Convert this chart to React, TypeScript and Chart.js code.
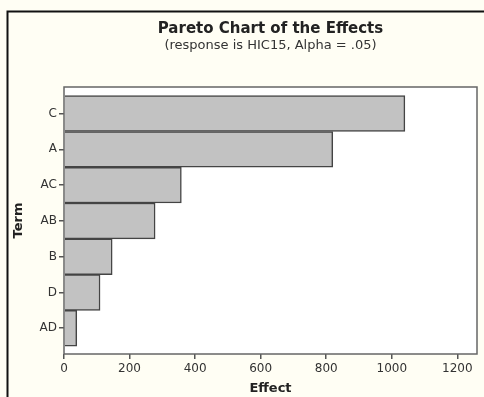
import React, { useEffect, useRef } from "react";
import { Chart, registerables } from "chart.js";

Chart.register(...registerables);

const terms = ["C", "A", "AC", "AB", "B", "D", "AD"];
const effects = [1040, 820, 358, 278, 147, 110, 39];
const xTickValues = [0, 200, 400, 600, 800, 1000, 1200];

const FONT = "'DejaVu Sans', Verdana, sans-serif";

const framePlugin = {
  id: "frame",
  beforeDraw(chart: any) {
    const { ctx, width, height, chartArea } = chart;
    ctx.save();
    ctx.fillStyle = "#fffef4";
    ctx.fillRect(0, 0, width, height);
    ctx.fillStyle = "#ffffff";
    ctx.fillRect(chartArea.left, chartArea.top, chartArea.right - chartArea.left, chartArea.bottom - chartArea.top);
    ctx.strokeStyle = "#111111";
    ctx.lineWidth = 2;
    ctx.beginPath();
    ctx.moveTo(7.5, height);
    ctx.lineTo(7.5, 11.5);
    ctx.lineTo(width, 11.5);
    ctx.stroke();
    ctx.restore();
  },
  afterDatasetsDraw(chart: any) {
    const { ctx, chartArea } = chart;
    ctx.save();
    ctx.strokeStyle = "#666666";
    ctx.lineWidth = 1.5;
    ctx.strokeRect(chartArea.left, chartArea.top, chartArea.right - chartArea.left, chartArea.bottom - chartArea.top);
    ctx.restore();
  },
};

export default function App() {
  const canvasRef = useRef<HTMLCanvasElement | null>(null);

  useEffect(() => {
    if (!canvasRef.current) return;
    const chart = new Chart(canvasRef.current, {
      type: "bar",
      data: {
        datasets: [
          {
            data: effects.map((v, i) => ({ x: v, y: i })),
            backgroundColor: "#c2c2c2",
            borderColor: "#444444",
            borderWidth: 1.5,
            borderSkipped: "start",
            categoryPercentage: 1,
            barPercentage: 1,
          },
        ],
      },
      options: {
        indexAxis: "y",
        animation: false,
        responsive: true,
        maintainAspectRatio: false,
        layout: { padding: { left: 0, right: 7, top: 0, bottom: 0 } },
        scales: {
          x: {
            type: "linear",
            min: 0,
            max: 1260,
            afterBuildTicks: (s: any) => {
              s.ticks = xTickValues.map((v) => ({ value: v }));
            },
            afterFit: (s: any) => {
              s.height = 43;
            },
            ticks: {
              font: { family: FONT, size: 12 },
              color: "#333333",
              padding: 3,
              callback: (v: any) => String(v),
            },
            grid: { display: true, drawOnChartArea: false, tickLength: 5, color: "#555555", lineWidth: 1.5 },
            border: { display: false },
            title: {
              display: true,
              text: "Effect",
              font: { family: FONT, size: 13, weight: "bold" },
              color: "#222222",
              padding: { top: 0, bottom: 0.2 },
            },
          },
          y: {
            type: "linear",
            reverse: true,
            offset: false,
            min: -0.743,
            max: 6.72,
            afterBuildTicks: (s: any) => {
              s.ticks = terms.map((_, i) => ({ value: i }));
            },
            afterFit: (s: any) => {
              s.width = 64;
            },
            ticks: {
              font: { family: FONT, size: 12 },
              color: "#333333",
              padding: 2,
              callback: (v: any) => terms[v] ?? "",
            },
            grid: {
              display: true,
              offset: false,
              drawOnChartArea: false,
              tickLength: 5,
              color: "#555555",
              lineWidth: 1.5,
            },
            border: { display: false },
            title: {
              display: true,
              text: "Term",
              font: { family: FONT, size: 13, weight: "bold" },
              color: "#222222",
              padding: { top: 11.2, bottom: 0 },
            },
          },
        },
        plugins: {
          legend: { display: false },
          tooltip: { enabled: false },
          title: {
            display: true,
            text: "Pareto Chart of the Effects",
            font: { family: FONT, size: 15, weight: "bold" },
            color: "#222222",
            padding: { top: 20.2, bottom: 0 },
            fullSize: false,
          },
          subtitle: {
            display: true,
            text: "(response is HIC15, Alpha = .05)",
            font: { family: FONT, size: 13 },
            color: "#333333",
            padding: { top: 0, bottom: 33.2 },
            fullSize: false,
          },
        },
      },
      plugins: [framePlugin],
    } as any);
    return () => chart.destroy();
  }, []);

  return (
    <div style={{ position: "absolute", left: 0, top: 0, width: 484, height: 397 }}>
      <canvas ref={canvasRef} />
    </div>
  );
}
